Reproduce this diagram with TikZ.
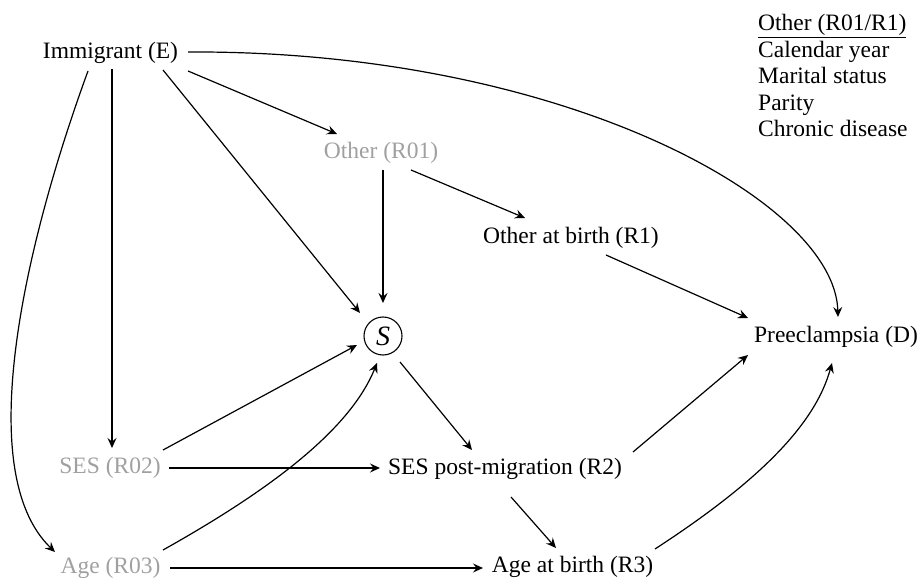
\documentclass[tikz,border=0pt]{standalone}
\usepackage{fontspec}
\setmainfont{Liberation Serif}
\usetikzlibrary{arrows.meta}
\definecolor{faded}{RGB}{160,160,160}
\begin{document}
\begin{tikzpicture}[x=1pt,y=-1pt,
  lbl/.style={inner sep=0pt, font=\fontsize{23.5}{28}\selectfont},
  grey/.style={lbl, text=faded},
  leg/.style={inner sep=0pt, anchor=base west, font=\fontsize{23.5}{28}\selectfont},
  arr/.style={line width=1.2pt, -{Stealth[length=10pt,width=9pt,inset=3.5pt]}}
]
\useasboundingbox (0,0) rectangle (921,580);
% nodes
\node[lbl]  (E)   at (110.5,53)  {Immigrant (E)};
\node[grey] (R01) at (381,153)   {Other (R01)};
\node[lbl]  (R1)  at (571,238)   {Other at birth (R1)};
\node[circle, draw, line width=1.1pt, minimum size=38pt, inner sep=0pt,
      font=\fontsize{28}{30}\selectfont] (S) at (383,336) {\textit{S}};
\node[lbl]  (D)   at (836,337)   {Preeclampsia (D)};
\node[grey] (R02) at (110,468)   {SES (R02)};
\node[lbl]  (R2)  at (505,469)   {SES post-migration (R2)};
\node[grey] (R03) at (110.5,568) {Age (R03)};
\node[lbl]  (R3)  at (572.5,567) {Age at birth (R3)};
% legend
\node[leg] (L1) at (758,31)  {\underline{Other (R01/R1)}};
\node[leg] (L2) at (758,57.5) {Calendar year};
\node[leg] (L3) at (758,84)  {Marital status};
\node[leg] (L4) at (758,110.5) {Parity};
\node[leg] (L5) at (758,137) {Chronic disease};
% connectors
\draw[arr] ([shift={(77.5,-1)}]E.center) .. controls (560,50) and (835,200) .. ([shift={(2,-20)}]D.center);
\draw[arr] ([shift={(-22.5,18)}]E.center) .. controls (28,235) and (-30,470) .. ([shift={(-55.5,-16)}]R03.center);
\draw[arr] ([shift={(1.5,16)}]E.center) -- ([shift={(2,-20)}]R02.center);
\draw[arr] ([shift={(52.5,17)}]E.center) -- ([shift={(-23,-23)}]S.center);
\draw[arr] ([shift={(77.5,18)}]E.center) -- ([shift={(-44,-19)}]R01.center);
\draw[arr] ([shift={(2,17)}]R01.center) -- ([shift={(0,-33)}]S.center);
\draw[arr] ([shift={(30,17)}]R01.center) -- ([shift={(-46,-20)}]R1.center);
\draw[arr] ([shift={(35,17)}]R1.center) -- ([shift={(-88,-19)}]D.center);
\draw[arr] ([shift={(53,-18)}]R02.center) -- ([shift={(-26,9)}]S.center);
\draw[arr] ([shift={(59,0)}]R02.center) -- ([shift={(-125,-1)}]R2.center);
\draw[arr] ([shift={(52.5,-18)}]R03.center) .. controls (270,490) and (350,430) .. ([shift={(-6,27)}]S.center);
\draw[arr] ([shift={(59.5,0)}]R03.center) -- ([shift={(-89.5,1)}]R3.center);
\draw[arr] ([shift={(17,26)}]S.center) -- ([shift={(-33,-19)}]R2.center);
\draw[arr] ([shift={(6,28)}]R2.center) -- ([shift={(-16.5,-19)}]R3.center);
\draw[arr] ([shift={(128,-17)}]R2.center) -- ([shift={(-88,18)}]D.center);
\draw[arr] ([shift={(82.5,-18)}]R3.center) .. controls (758,482) and (815,425) .. ([shift={(-4,26)}]D.center);
\end{tikzpicture}
\end{document}
